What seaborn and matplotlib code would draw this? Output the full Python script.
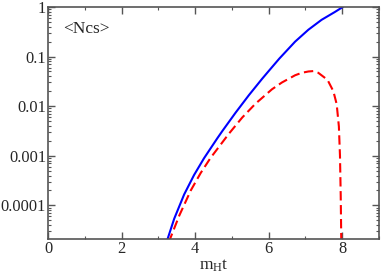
import numpy as np
import pandas as pd
import matplotlib
matplotlib.use("Agg")
import matplotlib.pyplot as plt
import matplotlib.ticker as mticker
import seaborn as sns

# --- data ---
t_blue = [3.22, 3.43, 3.70, 3.97, 4.24, 4.60, 4.74, 5.10, 5.46, 5.82, 6.00, 6.29, 6.72, 7.08, 7.44, 7.80, 8.02]
n_blue = [1.8e-5, 5.4e-5, 1.66e-4, 4.1e-4, 8.9e-4, 2.24e-3, 3.16e-3, 7.4e-3, 1.66e-2, 3.55e-2, 5.1e-2,
          9.1e-2, 0.20, 0.347, 0.55, 0.79, 1.0]

t_red = [3.28, 3.57, 3.88, 4.15, 4.42, 4.92, 5.28, 5.64, 6.09, 6.36, 6.72, 6.90, 7.08, 7.22, 7.35,
         7.60, 7.76, 7.85, 7.91, 7.94, 7.96, 7.975, 7.985]
n_red = [1.8e-5, 6.3e-5, 2.0e-4, 4.5e-4, 9.1e-4, 2.8e-3, 5.9e-3, 1.12e-2, 2.19e-2, 3.0e-2, 4.2e-2,
         4.7e-2, 5.0e-2, 5.1e-2, 4.7e-2, 3.4e-2, 2.0e-2, 1.1e-2, 3.9e-3, 1.0e-3, 1.6e-4, 2.0e-5, 3e-6]

x_ticks = [0, 2, 4, 6, 8]
y_ticks = [1e-4, 1e-3, 1e-2, 1e-1, 1]

sns.set_style("ticks")
plt.rcParams["font.family"] = ["Liberation Serif", "DejaVu Serif"]
plt.rcParams["mathtext.default"] = "regular"

fig = plt.figure(figsize=(3.82, 2.77), dpi=100)
ax = fig.add_axes([0.126, 0.137, 0.866, 0.838])

df_b = pd.DataFrame({"t": t_blue, "n": n_blue})
df_r = pd.DataFrame({"t": t_red, "n": n_red})
sns.lineplot(data=df_b, x="t", y="n", color="#0000ff", lw=1.5, ax=ax, sort=False)
sns.lineplot(data=df_r, x="t", y="n", color="#ff0000", lw=1.5, ax=ax, sort=False,
             linestyle=(0, (4.5, 2.2)))

ax.set_yscale("log")
ax.set_xlim(0, 9)
ax.set_ylim(2.1e-5, 1)
ax.set_xticks(x_ticks)
ax.xaxis.set_minor_locator(mticker.MultipleLocator(1))
ax.set_yticks(y_ticks)
ax.yaxis.set_major_formatter(mticker.FuncFormatter(lambda v, p: "%g" % v))
ax.yaxis.set_minor_locator(mticker.LogLocator(base=10, subs=np.arange(2, 10)))
ax.yaxis.set_minor_formatter(mticker.NullFormatter())

ax.tick_params(which="both", direction="in", top=True, right=True, labelsize=11.8,
               color="#555555", pad=1.5)
ax.tick_params(which="major", length=5, width=1)
ax.tick_params(which="minor", length=2.5, width=0.8)
for s in ax.spines.values():
    s.set_color("#555555")
    s.set_linewidth(1.2)

ax.set_xlabel("m$_H$t", fontsize=12.5, labelpad=0)
ax.set_ylabel("")
ax.text(0.045, 0.905, "<Ncs>", transform=ax.transAxes, fontsize=12.5, va="center")

fig.savefig("out.png", dpi=100)
